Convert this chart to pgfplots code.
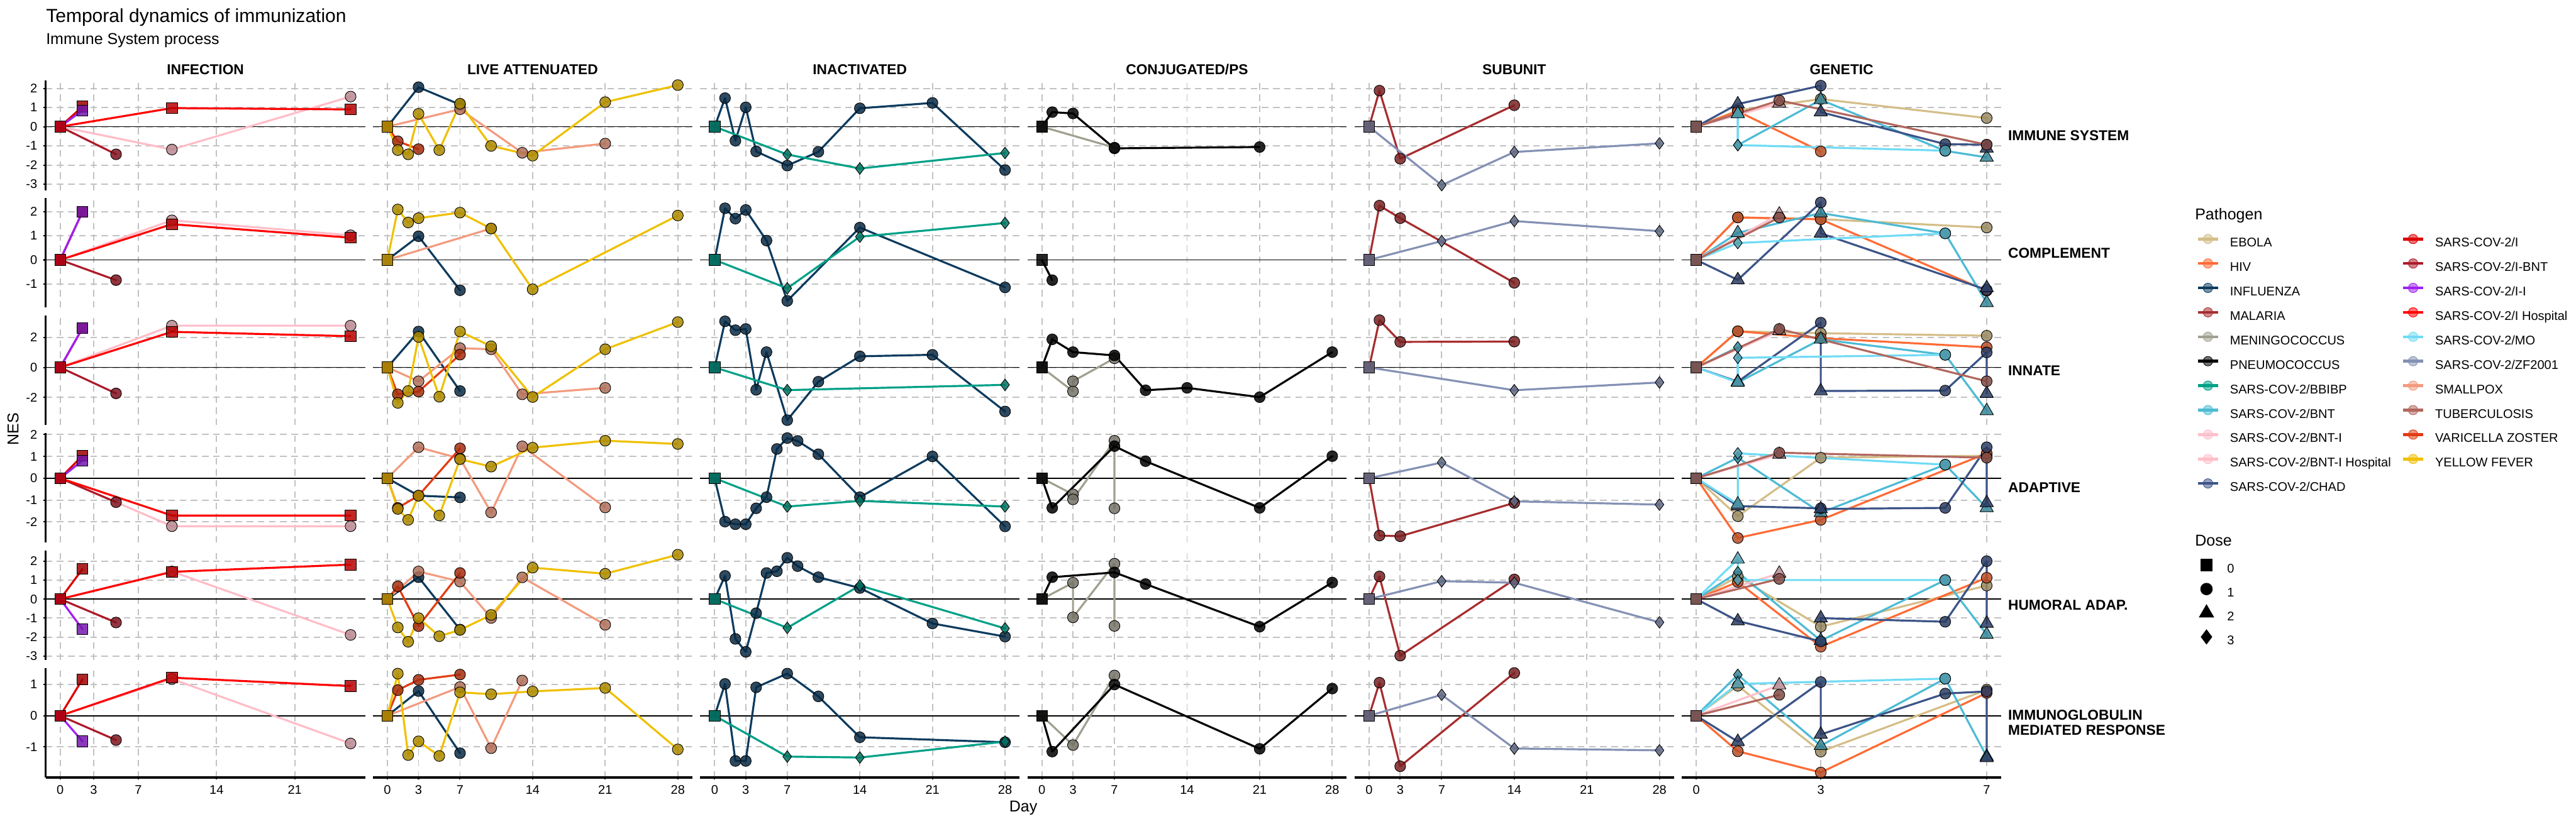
\documentclass[border=0pt]{standalone}
\usepackage{fontspec}
\setmainfont{Liberation Sans}
\usepackage{pgfplots}
\pgfplotsset{compat=1.18}

\definecolor{gridc}{HTML}{C2C2C2}
\definecolor{ebola}{HTML}{D4BE88}
\definecolor{hiv}{HTML}{FF6B35}
\definecolor{influenza}{HTML}{0D3B5E}
\definecolor{malaria}{HTML}{A72D2F}
\definecolor{mening}{HTML}{A19F8F}
\definecolor{pneumo}{HTML}{000000}
\definecolor{bbibp}{HTML}{00A087}
\definecolor{bnt}{HTML}{4DBBD5}
\definecolor{bnti}{HTML}{FFC0CB}
\definecolor{bntih}{HTML}{FFBDC8}
\definecolor{chad}{HTML}{3C5488}
\definecolor{sarsi}{HTML}{DC0000}
\definecolor{ibnt}{HTML}{AD1A2A}
\definecolor{ii}{HTML}{A020F0}
\definecolor{ihosp}{HTML}{FF0000}
\definecolor{mo}{HTML}{70DBF5}
\definecolor{zf}{HTML}{8491B4}
\definecolor{smallpox}{HTML}{F39B7F}
\definecolor{tb}{HTML}{B2675E}
\definecolor{vz}{HTML}{E23D12}
\definecolor{yf}{HTML}{EFC000}

\pgfplotsset{
  panel/.style={scale only axis, width=223.2pt, height=76.56pt, anchor=north west,
    axis x line*=bottom, axis y line*=left, separate axis lines,
    x axis line style={draw=none}, y axis line style={draw=none},
    xmajorgrids, ymajorgrids,
    major grid style={draw=gridc, line width=0.85pt, dash pattern=on 4.6pt off 3.2pt},
    xtick style={draw=none}, ytick style={draw=none},
    tick align=outside, major tick length=1.4pt,
    xticklabels={}, yticklabels={},
    extra y ticks={0}, extra y tick labels={},
    extra y tick style={ymajorgrids=true, major grid style={draw=black, solid, line width=0.8pt}},
    ticklabel style={font=\fontsize{8.8}{10}\selectfont},
    yticklabel style={anchor=east, inner sep=0pt, xshift=-4.3pt},
    xticklabel style={anchor=north, inner sep=0pt, yshift=-4.1pt},
    set layers, mark layer=axis foreground},
  r1/.style={ymin=-3.31, ymax=2.4, ytick={-3,-2,-1,0,1,2}},
  r2/.style={ymin=-1.98, ymax=2.56, ytick={-2,-1,0,1,2}},
  r3/.style={ymin=-3.84, ymax=3.45, ytick={-2,0,2}},
  r4/.style={ymin=-2.95, ymax=2.07, ytick={-2,-1,0,1,2}},
  r5/.style={ymin=-3.2, ymax=2.55, ytick={-3,-2,-1,0,1,2}},
  r6/.style={ymin=-1.98, ymax=1.53, ytick={-1,0,1}},
  cinf/.style={xmin=-1.3, xmax=27.3, xtick={0,3,7,14,21}},
  c28/.style={xmin=-1.4, xmax=29.4, xtick={0,3,7,14,21,28}},
  cgen/.style={xmin=-0.35, xmax=7.35, xtick={0,3,7}},
  leftcol/.style={y axis line style={draw=black, line width=1.6pt}, ytick style={draw=black, line width=0.9pt}},
  bottomrow/.style={x axis line style={draw=black, line width=1.6pt}, xtick style={draw=black, line width=0.9pt}},
  ser/.style={scatter, point meta=explicit symbolic, draw=#1, line width=1.4pt, line join=round, line cap=round,
    scatter/classes={0={mark=square*, mark size=3.8pt}, 1={mark=*, mark size=3.8pt},
                     2={mark=triangle*, mark size=5.4pt}, 3={mark=diamond*, mark size=4.1pt}},
    mark options={draw=black, line width=0.4pt, fill=#1!72!black, fill opacity=0.85, solid}},
}
\newcommand{\sr}[2]{\addplot[ser=#1] coordinates {#2};}
\newcommand{\pkey}[1]{\addlegendimage{legend image code/.code={\draw[#1, line width=2pt] (0pt,3.15pt) -- (14pt,3.15pt); \fill[#1, fill opacity=0.55] (7pt,3.15pt) circle (3.3pt);}}}
\newcommand{\dkey}[2]{\addlegendimage{legend image code/.code={\path[draw=none, fill=none] (0pt,0pt) rectangle (14pt,6.3pt); \draw[overlay,black,fill=black] plot[only marks, mark=#1, mark size=#2] coordinates {(7pt,3.15pt)};}}}

\begin{document}
\begin{tikzpicture}
\path (0,0) rectangle (1800pt,-576pt);

\node[anchor=base west, font=\fontsize{13.2}{16}\selectfont, inner sep=0pt] at (32pt,-15.4pt) {Temporal dynamics of immunization};
\node[anchor=base west, font=\fontsize{11}{13}\selectfont, inner sep=0pt] at (32pt,-31pt) {Immune System process};

\begin{scope}[every node/.style={font=\bfseries\fontsize{10}{10.6}\selectfont, inner sep=0pt}]
\node[anchor=base] at (143.52pt,-52pt) {INFECTION};
\node[anchor=base] at (372.17pt,-52pt) {LIVE ATTENUATED};
\node[anchor=base] at (600.82pt,-52pt) {INACTIVATED};
\node[anchor=base] at (829.46pt,-52pt) {CONJUGATED/PS};
\node[anchor=base] at (1058.11pt,-52pt) {SUBUNIT};
\node[anchor=base] at (1286.76pt,-52pt) {GENETIC};
\node[anchor=west, align=left] at (1403pt,-94.68pt) {IMMUNE SYSTEM};
\node[anchor=west, align=left] at (1403pt,-176.81pt) {COMPLEMENT};
\node[anchor=west, align=left] at (1403pt,-258.94pt) {INNATE};
\node[anchor=west, align=left] at (1403pt,-341.06pt) {ADAPTIVE};
\node[anchor=west, align=left] at (1403pt,-423.19pt) {HUMORAL ADAP.};
\node[anchor=west, align=left] at (1403pt,-505.32pt) {IMMUNOGLOBULIN\\MEDIATED RESPONSE};
\end{scope}
\node[rotate=90, font=\fontsize{11}{13}\selectfont] at (9.1pt,-300pt) {NES};
\node[font=\fontsize{11}{13}\selectfont] at (715pt,-564.7pt) {Day};

%% ================= INFECTION =================
\begin{axis}[panel,r1,cinf,leftcol,yticklabels={-3,-2,-1,0,1,2},at={(31.92pt,-56.4pt)}]
\sr{bntih}{(0,0)[0] (10,-1.19)[1] (26,1.57)[1]}
\sr{sarsi}{(0,0)[0] (2,1.05)[0]}
\sr{ibnt}{(0,0)[0] (5,-1.44)[1]}
\sr{ii}{(0,0)[0] (2,0.85)[0]}
\sr{ihosp}{(0,0)[0] (10,0.97)[0] (26,0.9)[0]}
\end{axis}
\begin{axis}[panel,r2,cinf,leftcol,yticklabels={-2,-1,0,1,2},at={(31.92pt,-138.53pt)}]
\sr{bntih}{(0,0)[0] (10,1.64)[1] (26,1.02)[1]}
\sr{sarsi}{(0,0)[0] (2,2.0)[0]}
\sr{ibnt}{(0,0)[0] (5,-0.84)[1]}
\sr{ii}{(0,0)[0] (2,2.0)[0]}
\sr{ihosp}{(0,0)[0] (10,1.48)[0] (26,0.92)[0]}
\end{axis}
\begin{axis}[panel,r3,cinf,leftcol,yticklabels={-2,0,2},at={(31.92pt,-220.66pt)}]
\sr{bntih}{(0,0)[0] (10,2.78)[1] (26,2.78)[1]}
\sr{sarsi}{(0,0)[0] (2,2.62)[0]}
\sr{ibnt}{(0,0)[0] (5,-1.73)[1]}
\sr{ii}{(0,0)[0] (2,2.62)[0]}
\sr{ihosp}{(0,0)[0] (10,2.37)[0] (26,2.08)[0]}
\end{axis}
\begin{axis}[panel,r4,cinf,leftcol,yticklabels={-2,-1,0,1,2},at={(31.92pt,-302.78pt)}]
\sr{bntih}{(0,0)[0] (10,-2.2)[1] (26,-2.2)[1]}
\sr{sarsi}{(0,0)[0] (2,1.03)[0]}
\sr{ibnt}{(0,0)[0] (5,-1.1)[1]}
\sr{ii}{(0,0)[0] (2,0.81)[0]}
\sr{ihosp}{(0,0)[0] (10,-1.71)[0] (26,-1.71)[0]}
\end{axis}
\begin{axis}[panel,r5,cinf,leftcol,yticklabels={-3,-2,-1,0,1,2},at={(31.92pt,-384.91pt)}]
\sr{bntih}{(0,0)[0] (10,1.45)[1] (26,-1.88)[1]}
\sr{sarsi}{(0,0)[0] (2,1.58)[0]}
\sr{ibnt}{(0,0)[0] (5,-1.23)[1]}
\sr{ii}{(0,0)[0] (2,-1.58)[0]}
\sr{ihosp}{(0,0)[0] (10,1.43)[0] (26,1.81)[0]}
\end{axis}
\begin{axis}[panel,r6,cinf,leftcol,bottomrow,yticklabels={-1,0,1},xticklabels={0,3,7,14,21},at={(31.92pt,-467.04pt)}]
\sr{bntih}{(0,0)[0] (10,1.18)[1] (26,-0.89)[1]}
\sr{sarsi}{(0,0)[0] (2,1.17)[0]}
\sr{ibnt}{(0,0)[0] (5,-0.78)[1]}
\sr{ii}{(0,0)[0] (2,-0.82)[0]}
\sr{ihosp}{(0,0)[0] (10,1.22)[0] (26,0.95)[0]}
\end{axis}

%% ================= LIVE ATTENUATED =================
\begin{axis}[panel,r1,c28,at={(260.57pt,-56.4pt)}]
\sr{influenza}{(0,0)[0] (3,2.06)[1] (7,1.15)[1]}
\sr{smallpox}{(0,0)[0] (7,0.91)[1] (13,-1.36)[1] (21,-0.88)[1]}
\sr{vz}{(0,0)[0] (1,-0.76)[1] (3,-1.17)[1]}
\sr{yf}{(0,0)[0] (1,-1.22)[1] (2,-1.44)[1] (3,0.67)[1] (5,-1.22)[1] (7,1.2)[1] (10,-1.0)[1] (14,-1.51)[1] (21,1.28)[1] (28,2.17)[1]}
\end{axis}
\begin{axis}[panel,r2,c28,at={(260.57pt,-138.53pt)}]
\sr{influenza}{(0,0)[0] (3,0.98)[1] (7,-1.26)[1]}
\sr{smallpox}{(0,0)[0] (10,1.3)[1]}
\sr{yf}{(0,0)[0] (1,2.09)[1] (2,1.55)[1] (3,1.73)[1] (7,1.96)[1] (10,1.3)[1] (14,-1.22)[1] (28,1.84)[1]}
\end{axis}
\begin{axis}[panel,r3,c28,at={(260.57pt,-220.66pt)}]
\sr{influenza}{(0,0)[0] (3,2.39)[1] (7,-1.57)[1]}
\sr{smallpox}{(0,0)[0] (3,-0.92)[1] (7,1.28)[1] (10,1.21)[1] (13,-1.79)[1] (21,-1.36)[1]}
\sr{vz}{(0,0)[0] (1,-1.79)[1] (3,-1.61)[1] (7,0.85)[1]}
\sr{yf}{(0,0)[0] (1,-2.36)[1] (2,-1.57)[1] (3,2.03)[1] (5,-1.95)[1] (7,2.39)[1] (10,1.41)[1] (14,-1.97)[1] (21,1.21)[1] (28,3.02)[1]}
\end{axis}
\begin{axis}[panel,r4,c28,at={(260.57pt,-302.78pt)}]
\sr{influenza}{(0,0)[0] (3,-0.8)[1] (7,-0.88)[1]}
\sr{smallpox}{(0,0)[0] (3,1.42)[1] (7,0.9)[1] (10,-1.57)[1] (13,1.46)[1] (21,-1.34)[1]}
\sr{vz}{(0,0)[0] (1,-1.36)[1] (3,-0.8)[1] (7,1.37)[1]}
\sr{yf}{(0,0)[0] (1,-1.41)[1] (2,-1.91)[1] (3,-0.8)[1] (5,-1.71)[1] (7,0.87)[1] (10,0.53)[1] (14,1.4)[1] (21,1.72)[1] (28,1.57)[1]}
\end{axis}
\begin{axis}[panel,r5,c28,at={(260.57pt,-384.91pt)}]
\sr{influenza}{(0,0)[0] (3,1.15)[1] (7,-1.6)[1]}
\sr{smallpox}{(0,0)[0] (3,1.45)[1] (7,0.92)[1] (10,-0.99)[1] (13,1.14)[1] (21,-1.35)[1]}
\sr{vz}{(0,0)[0] (1,0.67)[1] (3,-1.42)[1] (7,1.37)[1]}
\sr{yf}{(0,0)[0] (1,-1.49)[1] (2,-2.24)[1] (3,-1.0)[1] (5,-1.95)[1] (7,-1.62)[1] (10,-0.83)[1] (14,1.65)[1] (21,1.33)[1] (28,2.33)[1]}
\end{axis}
\begin{axis}[panel,r6,c28,bottomrow,xticklabels={0,3,7,14,21,28},at={(260.57pt,-467.04pt)}]
\sr{influenza}{(0,0)[0] (3,0.79)[1] (7,-1.2)[1]}
\sr{smallpox}{(0,0)[0] (7,0.92)[1] (10,-1.04)[1] (13,1.13)[1]}
\sr{vz}{(0,0)[0] (1,0.82)[1] (3,1.15)[1] (7,1.32)[1]}
\sr{yf}{(0,0)[0] (1,1.35)[1] (2,-1.26)[1] (3,-0.82)[1] (5,-1.29)[1] (7,0.75)[1] (10,0.69)[1] (14,0.78)[1] (21,0.89)[1] (28,-1.08)[1]}
\end{axis}

%% ================= INACTIVATED =================
\begin{axis}[panel,r1,c28,at={(489.22pt,-56.4pt)}]
\sr{influenza}{(0,0)[0] (1,1.49)[1] (2,-0.73)[1] (3,1.01)[1] (4,-1.29)[1] (7,-2.03)[1] (10,-1.31)[1] (14,0.96)[1] (21,1.24)[1] (28,-2.26)[1]}
\sr{bbibp}{(0,0)[0] (7,-1.45)[3] (14,-2.18)[3] (28,-1.37)[3]}
\end{axis}
\begin{axis}[panel,r2,c28,at={(489.22pt,-138.53pt)}]
\sr{influenza}{(0,0)[0] (1,2.14)[1] (2,1.71)[1] (3,2.07)[1] (5,0.8)[1] (7,-1.7)[1] (14,1.34)[1] (28,-1.14)[1]}
\sr{bbibp}{(0,0)[0] (7,-1.18)[3] (14,0.96)[3] (28,1.53)[3]}
\end{axis}
\begin{axis}[panel,r3,c28,at={(489.22pt,-220.66pt)}]
\sr{influenza}{(0,0)[0] (1,3.07)[1] (2,2.48)[1] (3,2.56)[1] (4,-1.49)[1] (5,1.02)[1] (7,-3.51)[1] (10,-0.95)[1] (14,0.74)[1] (21,0.84)[1] (28,-2.93)[1]}
\sr{bbibp}{(0,0)[0] (7,-1.51)[3] (28,-1.16)[3]}
\end{axis}
\begin{axis}[panel,r4,c28,at={(489.22pt,-302.78pt)}]
\sr{influenza}{(0,0)[0] (1,-1.99)[1] (2,-2.11)[1] (3,-2.11)[1] (4,-1.38)[1] (5,-0.87)[1] (6,1.34)[1] (7,1.84)[1] (8,1.71)[1] (10,1.1)[1] (14,-0.87)[1] (21,1.0)[1] (28,-2.21)[1]}
\sr{bbibp}{(0,0)[0] (7,-1.3)[3] (14,-1.04)[3] (28,-1.3)[3]}
\end{axis}
\begin{axis}[panel,r5,c28,at={(489.22pt,-384.91pt)}]
\sr{influenza}{(0,0)[0] (1,1.22)[1] (2,-2.09)[1] (3,-2.77)[1] (4,-0.74)[1] (5,1.37)[1] (6,1.46)[1] (7,2.17)[1] (8,1.73)[1] (10,1.15)[1] (14,0.58)[1] (21,-1.28)[1] (28,-1.97)[1]}
\sr{bbibp}{(0,0)[0] (7,-1.51)[3] (14,0.71)[3] (28,-1.54)[3]}
\end{axis}
\begin{axis}[panel,r6,c28,bottomrow,xticklabels={0,3,7,14,21,28},at={(489.22pt,-467.04pt)}]
\sr{influenza}{(0,0)[0] (1,1.02)[1] (2,-1.45)[1] (3,-1.45)[1] (4,0.91)[1] (7,1.35)[1] (10,0.62)[1] (14,-0.69)[1] (28,-0.85)[1]}
\sr{bbibp}{(0,0)[0] (7,-1.31)[3] (14,-1.34)[3] (28,-0.83)[3]}
\end{axis}

%% ================= CONJUGATED/PS =================
\begin{axis}[panel,r1,c28,at={(717.86pt,-56.4pt)}]
\sr{mening}{(0,0)[0] (7,-1.09)[1]}
\sr{pneumo}{(0,0)[0] (1,0.76)[1] (3,0.69)[1] (7,-1.13)[1] (21,-1.06)[1]}
\end{axis}
\begin{axis}[panel,r2,c28,at={(717.86pt,-138.53pt)}]
\sr{pneumo}{(0,0)[0] (1,-0.84)[1]}
\end{axis}
\begin{axis}[panel,r3,c28,at={(717.86pt,-220.66pt)}]
\sr{mening}{(0,0)[0] (3,-1.59)[1] (3,-0.92)[1] (7,0.61)[1]}
\sr{pneumo}{(0,0)[0] (1,1.87)[1] (3,1.02)[1] (7,0.8)[1] (10,-1.52)[1] (14,-1.36)[1] (21,-1.98)[1] (28,1.02)[1]}
\end{axis}
\begin{axis}[panel,r4,c28,at={(717.86pt,-302.78pt)}]
\sr{mening}{(0,0)[0] (3,-0.74)[1] (3,-0.97)[1] (7,1.72)[1] (7,-1.38)[1]}
\sr{pneumo}{(0,0)[0] (1,-1.36)[1] (7,1.47)[1] (10,0.78)[1] (21,-1.36)[1] (28,1.01)[1]}
\end{axis}
\begin{axis}[panel,r5,c28,at={(717.86pt,-384.91pt)}]
\sr{mening}{(0,0)[0] (3,0.86)[1] (3,-0.96)[1] (7,1.86)[1] (7,-1.41)[1]}
\sr{pneumo}{(0,0)[0] (1,1.15)[1] (7,1.4)[1] (10,0.79)[1] (21,-1.45)[1] (28,0.87)[1]}
\end{axis}
\begin{axis}[panel,r6,c28,bottomrow,xticklabels={0,3,7,14,21,28},at={(717.86pt,-467.04pt)}]
\sr{mening}{(0,0)[0] (3,-0.94)[1] (7,1.29)[1]}
\sr{pneumo}{(0,0)[0] (1,-1.15)[1] (7,1.0)[1] (21,-1.06)[1] (28,0.87)[1]}
\end{axis}

%% ================= SUBUNIT =================
\begin{axis}[panel,r1,c28,at={(946.51pt,-56.4pt)}]
\sr{malaria}{(0,0)[0] (1,1.88)[1] (3,-1.67)[1] (14,1.12)[1]}
\sr{zf}{(0,0)[0] (7,-3.05)[3] (14,-1.32)[3] (28,-0.87)[3]}
\end{axis}
\begin{axis}[panel,r2,c28,at={(946.51pt,-138.53pt)}]
\sr{malaria}{(0,0)[0] (1,2.25)[1] (3,1.73)[1] (14,-0.95)[1]}
\sr{zf}{(0,0)[0] (7,0.78)[3] (14,1.61)[3] (28,1.19)[3]}
\end{axis}
\begin{axis}[panel,r3,c28,at={(946.51pt,-220.66pt)}]
\sr{malaria}{(0,0)[0] (1,3.15)[1] (3,1.7)[1] (14,1.72)[1]}
\sr{zf}{(0,0)[0] (14,-1.52)[3] (28,-1.0)[3]}
\end{axis}
\begin{axis}[panel,r4,c28,at={(946.51pt,-302.78pt)}]
\sr{malaria}{(0,0)[0] (1,-2.63)[1] (3,-2.66)[1] (14,-1.13)[1]}
\sr{zf}{(0,0)[0] (7,0.72)[3] (14,-1.06)[3] (28,-1.21)[3]}
\end{axis}
\begin{axis}[panel,r5,c28,at={(946.51pt,-384.91pt)}]
\sr{malaria}{(0,0)[0] (1,1.19)[1] (3,-2.97)[1] (14,1.03)[1]}
\sr{zf}{(0,0)[0] (7,0.94)[3] (14,0.86)[3] (28,-1.22)[3]}
\end{axis}
\begin{axis}[panel,r6,c28,bottomrow,xticklabels={0,3,7,14,21,28},at={(946.51pt,-467.04pt)}]
\sr{malaria}{(0,0)[0] (1,1.06)[1] (3,-1.62)[1] (14,1.37)[1]}
\sr{zf}{(0,0)[0] (7,0.67)[3] (14,-1.05)[3] (28,-1.11)[3]}
\end{axis}

%% ================= GENETIC =================
\begin{axis}[panel,r1,cgen,at={(1175.16pt,-56.4pt)}]
\sr{ebola}{(0,0)[0] (1,0.85)[1] (3,1.44)[1] (7,0.45)[1]}
\sr{hiv}{(0,0)[0] (1,0.8)[1] (3,-1.29)[1]}
\sr{bnt}{(0,0)[0] (1,0.67)[2] (1,-0.96)[3] (3,1.4)[2] (6,-1.26)[1] (7,-1.6)[2]}
\sr{bnti}{(0,0)[0] (2,1.22)[2]}
\sr{chad}{(0,0)[0] (1,1.18)[2] (3,2.14)[1] (3,0.76)[2] (6,-0.91)[1] (7,-0.94)[1] (7,-1.13)[2]}
\sr{mo}{(0,0)[0] (1,0.67)[2] (1,-0.96)[3] (6,-1.25)[1]}
\sr{tb}{(0,0)[0] (2,1.37)[1] (7,-0.94)[1]}
\end{axis}
\begin{axis}[panel,r2,cgen,at={(1175.16pt,-138.53pt)}]
\sr{ebola}{(0,0)[0] (1,1.76)[1] (3,1.69)[1] (7,1.34)[1]}
\sr{hiv}{(0,0)[0] (1,1.76)[1] (3,1.68)[1] (7,-1.28)[1]}
\sr{bnt}{(0,0)[0] (1,1.12)[2] (3,1.94)[2] (6,1.1)[1] (7,-1.78)[2]}
\sr{bnti}{(0,0)[0] (2,1.89)[2]}
\sr{chad}{(0,0)[0] (1,-0.83)[2] (3,2.38)[1] (3,1.1)[2] (7,-1.24)[1] (7,-1.16)[2]}
\sr{mo}{(0,0)[0] (1,0.7)[3] (6,1.1)[1]}
\sr{tb}{(0,0)[0] (2,1.76)[1]}
\end{axis}
\begin{axis}[panel,r3,cgen,at={(1175.16pt,-220.66pt)}]
\sr{ebola}{(0,0)[0] (1,2.4)[1] (3,2.28)[1] (7,2.11)[1]}
\sr{hiv}{(0,0)[0] (1,2.41)[1] (3,1.95)[1] (7,1.34)[1]}
\sr{bnt}{(0,0)[0] (1,1.34)[3] (1,-1.0)[2] (3,1.87)[2] (6,0.84)[1] (7,-2.89)[2]}
\sr{bnti}{(0,0)[0] (2,2.44)[2]}
\sr{chad}{(0,0)[0] (1,-0.95)[2] (3,2.98)[1] (3,-1.57)[2] (6,-1.54)[1] (7,1.0)[1] (7,-1.74)[2]}
\sr{mo}{(0,0)[0] (1,-1.0)[2] (1,0.64)[3] (6,0.84)[1]}
\sr{tb}{(0,0)[0] (2,2.56)[1] (7,-0.92)[1]}
\end{axis}
\begin{axis}[panel,r4,cgen,at={(1175.16pt,-302.78pt)}]
\sr{ebola}{(0,0)[0] (1,-1.74)[1] (3,0.94)[1] (7,1.03)[1]}
\sr{hiv}{(0,0)[0] (1,-2.74)[1] (3,-1.91)[1] (7,1.14)[1]}
\sr{bnt}{(0,0)[0] (1,0.94)[3] (3,-1.58)[2] (6,0.62)[1] (7,-1.36)[2]}
\sr{bnti}{(0,0)[0] (2,1.09)[2]}
\sr{chad}{(0,0)[0] (1,-1.28)[2] (3,-1.38)[1] (3,-1.41)[2] (6,-1.36)[1] (7,1.42)[1] (7,-1.13)[2]}
\sr{mo}{(0,0)[0] (1,-1.19)[2] (1,1.14)[3] (6,0.62)[1]}
\sr{tb}{(0,0)[0] (2,1.17)[1] (7,0.94)[1]}
\end{axis}
\begin{axis}[panel,r5,cgen,at={(1175.16pt,-384.91pt)}]
\sr{ebola}{(0,0)[0] (1,1.18)[1] (3,-1.45)[1] (7,0.71)[1]}
\sr{hiv}{(0,0)[0] (1,0.9)[1] (3,-2.5)[1] (7,1.12)[1]}
\sr{bnt}{(0,0)[0] (1,1.41)[3] (3,-2.18)[2] (6,1.0)[1] (7,-1.86)[2]}
\sr{bnti}{(0,0)[0] (2,1.35)[2]}
\sr{chad}{(0,0)[0] (1,-1.15)[2] (3,-2.22)[1] (3,-1.0)[2] (6,-1.19)[1] (7,1.99)[1] (7,-1.28)[2]}
\sr{mo}{(0,0)[0] (1,2.09)[2] (1,1.0)[3] (6,1.0)[1]}
\sr{tb}{(0,0)[0] (2,1.06)[1]}
\end{axis}
\begin{axis}[panel,r6,cgen,bottomrow,xticklabels={0,3,7},at={(1175.16pt,-467.04pt)}]
\sr{ebola}{(0,0)[0] (1,0.96)[1] (3,-1.15)[1] (7,0.83)[1]}
\sr{hiv}{(0,0)[0] (1,-1.14)[1] (3,-1.82)[1] (7,0.73)[1]}
\sr{bnt}{(0,0)[0] (1,1.31)[3] (3,-0.96)[2] (6,1.19)[1] (7,-1.31)[2]}
\sr{bnti}{(0,0)[0] (2,0.98)[2]}
\sr{chad}{(0,0)[0] (1,-0.83)[2] (3,1.08)[1] (3,-0.6)[2] (6,0.71)[1] (7,0.78)[1] (7,-1.35)[2]}
\sr{mo}{(0,0)[0] (1,1.02)[2] (6,1.19)[1]}
\sr{tb}{(0,0)[0] (2,0.67)[1]}
\end{axis}

%% ================= LEGENDS =================
\node[anchor=base west, font=\fontsize{11}{13}\selectfont, inner sep=0pt] at (1533.6pt,-153.4pt) {Pathogen};
\begin{axis}[hide axis, scale only axis, width=1pt, height=1pt, xmin=0, xmax=1, ymin=0, ymax=1,
  at={(1534.8pt,-163.6pt)}, anchor=north west, legend columns=2, legend cell align=left,
  legend style={at={(0,1)}, anchor=north west, draw=none, fill=none, inner sep=0pt, outer sep=0pt,
    column sep=7.44pt, row sep=6.29pt, font=\fontsize{8.8}{10}\selectfont,
    nodes={inner sep=0pt, text height=6.5pt, text depth=1.8pt}}]
\pkey{ebola}\addlegendentry{EBOLA}
\pkey{sarsi}\addlegendentry{SARS-COV-2/I}
\pkey{hiv}\addlegendentry{HIV}
\pkey{ibnt}\addlegendentry{SARS-COV-2/I-BNT}
\pkey{influenza}\addlegendentry{INFLUENZA}
\pkey{ii}\addlegendentry{SARS-COV-2/I-I}
\pkey{malaria}\addlegendentry{MALARIA}
\pkey{ihosp}\addlegendentry{SARS-COV-2/I Hospital}
\pkey{mening}\addlegendentry{MENINGOCOCCUS}
\pkey{mo}\addlegendentry{SARS-COV-2/MO}
\pkey{pneumo}\addlegendentry{PNEUMOCOCCUS}
\pkey{zf}\addlegendentry{SARS-COV-2/ZF2001}
\pkey{bbibp}\addlegendentry{SARS-COV-2/BBIBP}
\pkey{smallpox}\addlegendentry{SMALLPOX}
\pkey{bnt}\addlegendentry{SARS-COV-2/BNT}
\pkey{tb}\addlegendentry{TUBERCULOSIS}
\pkey{bnti}\addlegendentry{SARS-COV-2/BNT-I}
\pkey{vz}\addlegendentry{VARICELLA ZOSTER}
\pkey{bntih}\addlegendentry{SARS-COV-2/BNT-I Hospital}
\pkey{yf}\addlegendentry{YELLOW FEVER}
\pkey{chad}\addlegendentry{SARS-COV-2/CHAD}
\end{axis}

\node[anchor=base west, font=\fontsize{11}{13}\selectfont, inner sep=0pt] at (1533.6pt,-381.6pt) {Dose};
\begin{axis}[hide axis, scale only axis, width=1pt, height=1pt, xmin=0, xmax=1, ymin=0, ymax=1,
  at={(1534.8pt,-391.95pt)}, anchor=north west, legend cell align=left,
  legend style={at={(0,1)}, anchor=north west, draw=none, fill=none, inner sep=0pt, outer sep=0pt,
    column sep=7.44pt, row sep=6.29pt, font=\fontsize{8.8}{10}\selectfont,
    nodes={inner sep=0pt, text height=6.5pt, text depth=1.8pt}}]
\dkey{square*}{4.1pt}\addlegendentry{0}
\dkey{*}{4.1pt}\addlegendentry{1}
\dkey{triangle*}{5.8pt}\addlegendentry{2}
\dkey{diamond*}{5pt}\addlegendentry{3}
\end{axis}
\end{tikzpicture}
\end{document}
